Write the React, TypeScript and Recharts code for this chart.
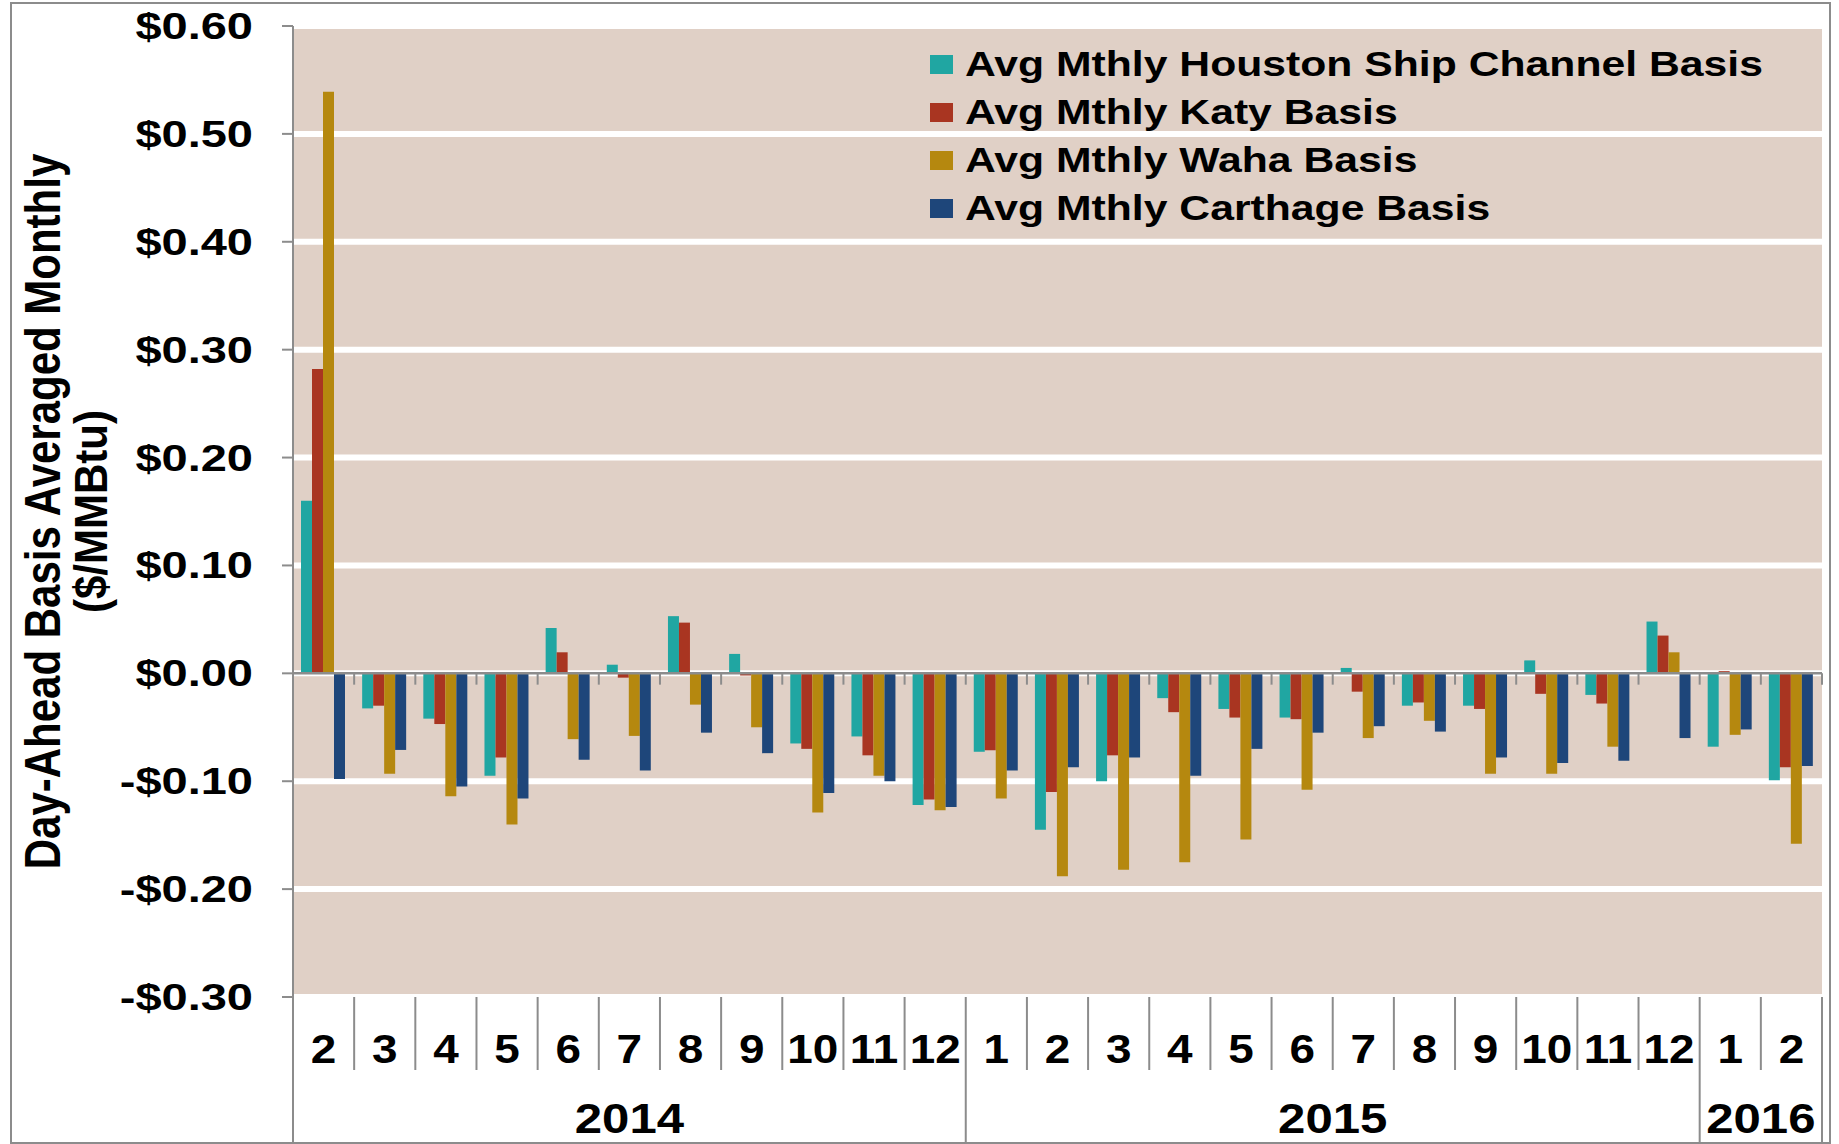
import React from 'react'
import { BarChart, Bar, XAxis, YAxis, CartesianGrid, ReferenceLine, Legend } from 'recharts'

const periods = [
  '2014-02', '2014-03', '2014-04', '2014-05', '2014-06', '2014-07', '2014-08', '2014-09', '2014-10', '2014-11', '2014-12',
  '2015-01', '2015-02', '2015-03', '2015-04', '2015-05', '2015-06', '2015-07', '2015-08', '2015-09', '2015-10', '2015-11', '2015-12',
  '2016-01', '2016-02',
]
const monthLabels = ['2', '3', '4', '5', '6', '7', '8', '9', '10', '11', '12', '1', '2', '3', '4', '5', '6', '7', '8', '9', '10', '11', '12', '1', '2']
const yearGroups = [
  { year: '2014', start: 0, end: 10 },
  { year: '2015', start: 11, end: 22 },
  { year: '2016', start: 23, end: 24 },
]

const hscBasis = [0.16, -0.0325, -0.042, -0.095, 0.042, 0.008, 0.053, 0.018, -0.065, -0.0585, -0.122, -0.0727, -0.145, -0.1, -0.023, -0.033, -0.041, 0.005, -0.03, -0.03, 0.012, -0.02, 0.048, -0.068, -0.099]
const katyBasis = [0.282, -0.03, -0.047, -0.078, 0.0195, -0.004, 0.047, -0.002, -0.07, -0.076, -0.117, -0.0713, -0.11, -0.076, -0.036, -0.041, -0.0425, -0.017, -0.027, -0.033, -0.019, -0.028, 0.035, 0.002, -0.087]
const wahaBasis = [0.539, -0.093, -0.114, -0.14, -0.061, -0.058, -0.029, -0.05, -0.129, -0.095, -0.127, -0.116, -0.188, -0.182, -0.175, -0.154, -0.108, -0.06, -0.044, -0.093, -0.093, -0.068, 0.0195, -0.057, -0.158]
const carthageBasis = [-0.098, -0.071, -0.105, -0.116, -0.08, -0.09, -0.055, -0.074, -0.111, -0.1, -0.124, -0.09, -0.087, -0.078, -0.095, -0.07, -0.055, -0.049, -0.054, -0.078, -0.083, -0.081, -0.06, -0.052, -0.086]

const yTicks = [0.6, 0.5, 0.4, 0.3, 0.2, 0.1, 0, -0.1, -0.2, -0.3]

const series = [
  { key: 'hsc', name: 'Avg Mthly Houston Ship Channel Basis', color: '#20A6A2' },
  { key: 'katy', name: 'Avg Mthly Katy Basis', color: '#A93521' },
  { key: 'waha', name: 'Avg Mthly Waha Basis', color: '#B5880F' },
  { key: 'carthage', name: 'Avg Mthly Carthage Basis', color: '#1E467A' },
]

const data = periods.map((p, i) => ({
  period: p,
  idx: i + 0.5,
  hsc: hscBasis[i],
  katy: katyBasis[i],
  waha: wahaBasis[i],
  carthage: carthageBasis[i],
}))

const FONT = '"Liberation Sans", Arial, Helvetica, sans-serif'
const GREY = '#8c8c8c'

const fmtDollar = (v: number) => (v < -1e-9 ? '-' : '') + '$' + Math.abs(v).toFixed(2)

function YTick(props: any) {
  const { x, y, payload } = props
  return (
    <text
      transform={`translate(${x},${y}) scale(1.27,1)`}
      textAnchor="end"
      dy={13}
      fontSize={37}
      fontWeight="bold"
      fontFamily={FONT}
      fill="#000"
    >
      {fmtDollar(payload.value)}
    </text>
  )
}

function MonthTick(props: any) {
  const { x, y, payload } = props
  const i: number = payload.index ?? props.index
  const half: number = payload.offset || 30.58
  const left = x - half
  const group = yearGroups.find((g) => g.start === i)
  const isLast = i === periods.length - 1
  return (
    <g>
      <line x1={left} x2={left} y1={y} y2={group ? y + 147 : y + 73} stroke={GREY} strokeWidth={2} />
      {isLast && <line x1={x + half} x2={x + half} y1={y} y2={y + 147} stroke={GREY} strokeWidth={2} />}
      <text
        transform={`translate(${x},${y + 66}) scale(1.12,1)`}
        textAnchor="middle"
        fontSize={41}
        fontWeight="bold"
        fontFamily={FONT}
        fill="#000"
      >
        {monthLabels[i]}
      </text>
      {group && (
        <text
          transform={`translate(${left + (group.end - group.start + 1) * half},${y + 136}) scale(1.17,1)`}
          textAnchor="middle"
          fontSize={42}
          fontWeight="bold"
          fontFamily={FONT}
          fill="#000"
        >
          {group.year}
        </text>
      )}
    </g>
  )
}

function AxisTitle(props: any) {
  const vb = props.viewBox || {}
  const cy = vb.height ? vb.y + vb.height / 2 : 511
  return (
    <g fontFamily={FONT} fontWeight="bold" fill="#000">
      <text transform={`translate(60,${cy}) rotate(-90) scale(1,1.2)`} textAnchor="middle" fontSize={42}>
        Day-Ahead Basis Averaged Monthly
      </text>
      <text
        transform={`translate(107,${cy}) rotate(-90) scale(1,1.2)`}
        textAnchor="middle"
        fontSize={38}
        textLength={203}
        lengthAdjust="spacingAndGlyphs"
      >
        ($/MMBtu)
      </text>
    </g>
  )
}

function LegendBox(props: any) {
  const items = props.payload || []
  // keep the series order, not the alphabetical one
  const ordered = series
    .map((s) => items.find((it: any) => it.dataKey === s.key || it.value === s.name))
    .filter(Boolean)
  return (
    <div style={{ fontFamily: FONT, fontWeight: 'bold', fontSize: 35, color: '#000' }}>
      {ordered.map((it: any) => (
        <div key={it.value} style={{ height: 48, display: 'flex', alignItems: 'center' }}>
          <span style={{ display: 'inline-block', width: 23, height: 19, background: it.color }} />
          <span
            style={{
              display: 'inline-block',
              marginLeft: 11.5,
              lineHeight: '48px',
              whiteSpace: 'nowrap',
              transform: 'scaleX(1.22)',
              transformOrigin: 'left center',
            }}
          >
            {it.value}
          </span>
        </div>
      ))}
    </div>
  )
}

export default function App() {
  return (
    <div style={{ position: 'absolute', left: 0, top: 0, width: 1839, height: 1144, background: '#fff' }}>
      <div
        style={{
          position: 'absolute',
          left: 10,
          top: 2,
          width: 1821,
          height: 1142,
          boxSizing: 'border-box',
          border: `2px solid ${GREY}`,
          pointerEvents: 'none',
        }}
      />
      <BarChart
        width={1839}
        height={1144}
        data={data}
        margin={{ top: 26, right: 17, left: 0, bottom: 1 }}
        barCategoryGap={8}
        barGap={0}
        style={{ position: 'absolute', left: 0, top: 0 }}
      >
        <CartesianGrid vertical={false} stroke="#ffffff" strokeWidth={6} fill="#E0D0C6" fillOpacity={1} />
        <XAxis
          dataKey="period"
          interval={0}
          height={146}
          tickSize={0}
          tickMargin={0}
          tickLine={false}
          axisLine={false}
          tick={<MonthTick />}
        />
        <XAxis xAxisId="edges" dataKey="idx" type="number" domain={[0, periods.length]} allowDataOverflow hide />
        <YAxis
          width={293}
          domain={[-0.3, 0.6]}
          ticks={yTicks}
          interval={0}
          allowDataOverflow
          tickSize={11}
          tickMargin={29}
          axisLine={{ stroke: GREY, strokeWidth: 2 }}
          tickLine={{ stroke: GREY, strokeWidth: 2 }}
          tick={<YTick />}
          label={{ content: AxisTitle }}
        />
        <Legend
          layout="vertical"
          align="center"
          verticalAlign="middle"
          wrapperStyle={{ left: 930, top: 40, width: 900 }}
          content={<LegendBox />}
        />
        {series.map((s) => (
          <Bar key={s.key} dataKey={s.key} name={s.name} fill={s.color} isAnimationActive={false} />
        ))}
        <ReferenceLine y={0} stroke={GREY} strokeWidth={2.5} />
        {periods.concat(['end']).map((_, i) => (
          <ReferenceLine
            key={'t' + i}
            xAxisId="edges"
            segment={[
              { x: i, y: 0 },
              { x: i, y: -0.0105 },
            ]}
            stroke={GREY}
            strokeWidth={2}
          />
        ))}
      </BarChart>
    </div>
  )
}
